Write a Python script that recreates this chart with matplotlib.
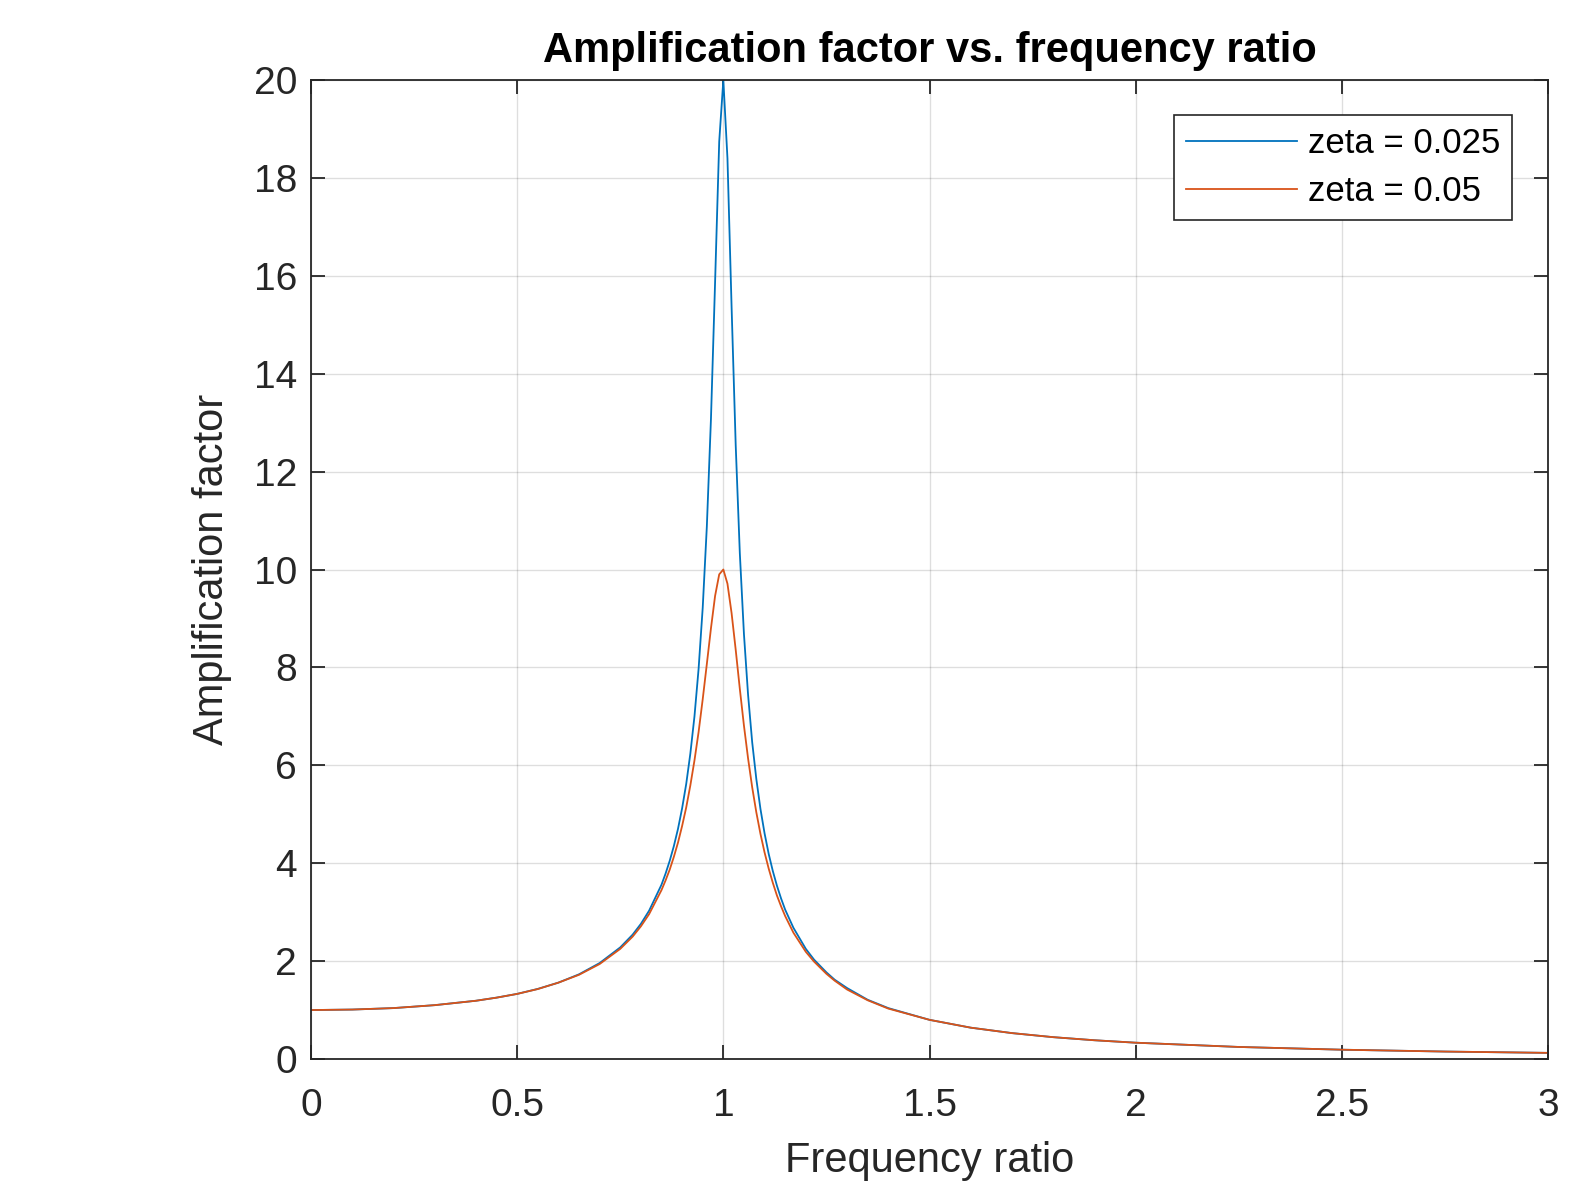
import matplotlib
matplotlib.use("Agg")
import matplotlib.pyplot as plt

# Frequency ratio samples
ratio = [0.0, 0.1, 0.2, 0.3, 0.4, 0.45, 0.5, 0.55, 0.6, 0.65, 0.7, 0.75, 0.78,
         0.8, 0.82, 0.85, 0.86, 0.87, 0.88, 0.89, 0.9, 0.91, 0.92, 0.93, 0.94,
         0.95, 0.96, 0.97, 0.98, 0.99, 1.0, 1.01, 1.02, 1.03, 1.04, 1.05, 1.06,
         1.07, 1.08, 1.09, 1.1, 1.11, 1.12, 1.13, 1.14, 1.15, 1.17, 1.2, 1.22,
         1.25, 1.27, 1.3, 1.35, 1.4, 1.5, 1.6, 1.7, 1.8, 1.9, 2.0, 2.25, 2.5,
         2.75, 3.0]

# Amplification factor, zeta = 0.025
amp_025 = [1.00, 1.01, 1.04, 1.10, 1.19, 1.254, 1.33, 1.432, 1.56, 1.73, 1.96,
           2.28, 2.54, 2.76, 3.03, 3.56, 3.79, 4.05, 4.35, 4.70, 5.12, 5.62,
           6.24, 7.00, 7.97, 9.22, 10.88, 13.08, 15.87, 18.74, 20.0, 18.40,
           15.37, 12.54, 10.33, 8.68, 7.44, 6.47, 5.72, 5.11, 4.61, 4.19, 3.84,
           3.54, 3.28, 3.05, 2.68, 2.25, 2.03, 1.77, 1.62, 1.45, 1.21, 1.04,
           0.80, 0.64, 0.529, 0.446, 0.383, 0.333, 0.246, 0.190, 0.152, 0.125]

# Amplification factor, zeta = 0.05
amp_05 = [1.00, 1.01, 1.04, 1.10, 1.19, 1.253, 1.33, 1.429, 1.56, 1.72, 1.94,
          2.25, 2.50, 2.71, 2.96, 3.45, 3.65, 3.87, 4.13, 4.42, 4.76, 5.14,
          5.59, 6.10, 6.68, 7.35, 8.07, 8.80, 9.46, 9.90, 10.0, 9.71, 9.11,
          8.36, 7.56, 6.81, 6.14, 5.55, 5.04, 4.60, 4.22, 3.89, 3.60, 3.34,
          3.12, 2.92, 2.58, 2.19, 1.99, 1.74, 1.60, 1.42, 1.20, 1.03, 0.80,
          0.64, 0.529, 0.446, 0.383, 0.333, 0.246, 0.190, 0.152, 0.125]

series_labels = ["zeta = 0.025", "zeta = 0.05"]
x_ticks = [0, 0.5, 1, 1.5, 2, 2.5, 3]
x_ticklabels = ["0", "0.5", "1", "1.5", "2", "2.5", "3"]
y_ticks = [0, 2, 4, 6, 8, 10, 12, 14, 16, 18, 20]

plt.rcParams['font.family'] = ['Liberation Sans', 'DejaVu Sans']

fig = plt.figure(figsize=(15.72, 11.85), dpi=100)
ax = fig.add_axes([311/1572, 1 - 1059/1185, (1548-311)/1572, (1059-80)/1185])

ax.plot(ratio, amp_025, color="#0072BD", lw=1.3, label=series_labels[0])
ax.plot(ratio, amp_05, color="#D95319", lw=1.3, label=series_labels[1])

ax.set_xlim(0, 3)
ax.set_ylim(0, 20)
ax.set_xticks(x_ticks)
ax.set_xticklabels(x_ticklabels)
ax.set_yticks(y_ticks)

ax.grid(True, color="#000000", alpha=0.13, lw=1.0)
ax.set_axisbelow(True)
for s in ax.spines.values():
    s.set_color("#262626")
    s.set_linewidth(1.3)
ax.tick_params(direction="in", length=10, width=1.3, colors="#262626",
               labelsize=28, top=True, right=True)
ax.tick_params(axis="y", pad=10)
ax.tick_params(axis="x", pad=21)

ax.set_xlabel("Frequency ratio", fontsize=30, color="#262626", labelpad=12)
ax.set_ylabel("Amplification factor", fontsize=30, color="#262626", labelpad=16)
ax.set_title("Amplification factor vs. frequency ratio", fontsize=30,
             fontweight="bold", color="#000000", pad=13)

leg = ax.legend(loc="upper right", fontsize=25, frameon=True, fancybox=False,
                edgecolor="#262626", framealpha=1, handlelength=3.2,
                handletextpad=0.3, borderpad=0.35, labelspacing=0.42,
                borderaxespad=0, bbox_to_anchor=(0.971, 0.964))
leg.get_frame().set_linewidth(1.2)

fig.savefig("out.png", dpi=100, facecolor="white")
